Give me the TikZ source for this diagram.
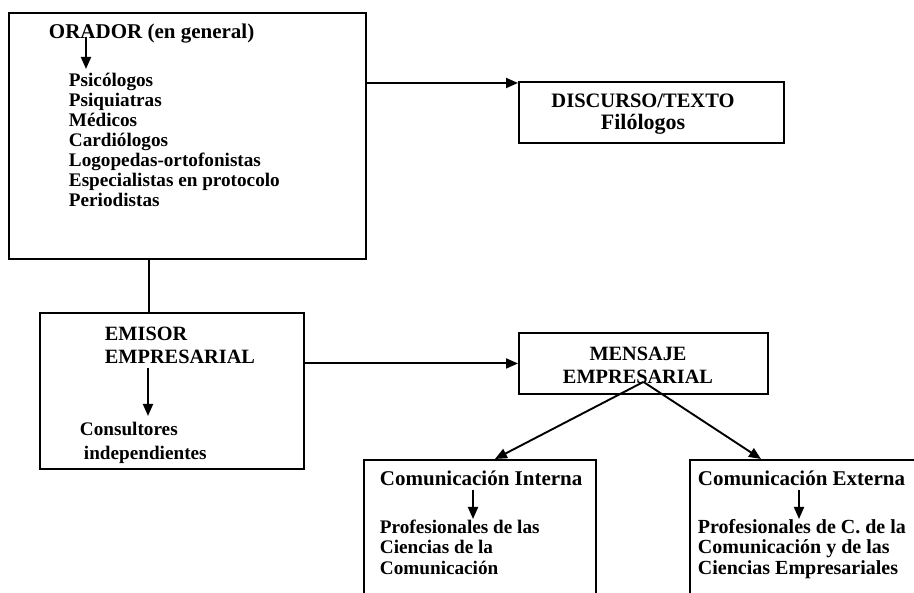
\documentclass[tikz,border=0pt]{standalone}
\usepackage{fontspec}
\setmainfont{Liberation Serif}
\usetikzlibrary{arrows.meta}
\begin{document}
\begin{tikzpicture}[x=1pt, y=-1pt, line width=1.9pt,
    caja/.style={draw, anchor=north west, inner sep=0pt},
    texto/.style 2 args={inner sep=0pt, align=left, font=\bfseries\fontsize{#1}{#2}\selectfont},
    flecha/.style={-{Triangle[length=12pt,width=10pt]}}]
  \useasboundingbox (0,0) rectangle (914,593);
  \clip (0,0) rectangle (914,593);
  %boxes
  \node[caja, minimum width=357pt, minimum height=246pt] at (8,12) (orador) {};
  \node[caja, minimum width=265pt, minimum height=61pt] at (518,81) (disc) {};
  \node[caja, minimum width=264pt, minimum height=156pt] at (39,312) (emisor) {};
  \node[caja, minimum width=249pt, minimum height=61pt] at (518,332) (mensaje) {};
  \node[caja, minimum width=232pt, minimum height=200pt] at (363,459) (interna) {};
  \node[caja, minimum width=300pt, minimum height=200pt] at (689,459) (externa) {};
  %texts
  \node[texto={21}{20}, anchor=base west] at (48,39) (tit-orador) {ORADOR (en general)};
  \node[texto={19.2}{20}, anchor=north west] at (68,72) (lista-orador) {Psicólogos\\Psiquiatras\\Médicos\\Cardiólogos\\Logopedas-ortofonistas\\Especialistas en protocolo\\Periodistas};
  \node[texto={20.5}{22}, align=center, anchor=north] at (643,93) (tit-disc) {DISCURSO/TEXTO\\{\fontsize{22}{22}\selectfont Filólogos}};
  \node[texto={20.3}{23}, anchor=north west] at (104,326) (tit-emisor) {EMISOR\\EMPRESARIAL};
  \node[texto={19.2}{24}, anchor=north west] at (79,421) (lista-emisor) {Consultores\\\hspace*{4pt}independientes};
  \node[texto={20.3}{23}, align=center, anchor=north] at (638,346) (tit-mensaje) {MENSAJE\\EMPRESARIAL};
  \node[texto={21}{20}, anchor=base west] at (379,486) (tit-interna) {Comunicación Interna};
  \node[texto={19.2}{20.5}, anchor=north west] at (379,519) (lista-interna) {Profesionales de las\\Ciencias de la\\Comunicación};
  \node[texto={21}{20}, anchor=base west] at (697,486) (tit-externa) {Comunicación Externa};
  \node[texto={20}{20.5}, anchor=north west] at (697,518) (lista-externa) {Profesionales de C. de la\\Comunicación y de las\\Ciencias Empresariales};
  %connectors
  \coordinate (eje) at (149,0);
  \coordinate (entrada-disc) at ([yshift=-2pt]disc.north west);
  \coordinate (cruce) at ([yshift=13pt]mensaje.south);
  \path[flecha]
    (orador.east |- entrada-disc) edge (entrada-disc)
    (eje |- orador.south) edge[-] (eje |- emisor.north)
    (emisor.east |- mensaje.west) edge (mensaje.west)
    (cruce) edge ([xshift=15pt]interna.north)
    (cruce) edge ([xshift=72pt]externa.north west);
  \path[flecha]
    ([xshift=38pt,yshift=2pt]tit-orador.base west) edge ([xshift=18pt,yshift=3pt]lista-orador.north west)
    ([xshift=44pt,yshift=-3pt]tit-emisor.south west) edge ([xshift=69pt,yshift=5pt]lista-emisor.north west)
    ([xshift=94pt,yshift=-4pt]tit-interna.base west) edge ([xshift=94pt]lista-interna.north west)
    ([xshift=102pt,yshift=-4pt]tit-externa.base west) edge ([xshift=102pt,yshift=-1pt]lista-externa.north west);
\end{tikzpicture}
\end{document}
